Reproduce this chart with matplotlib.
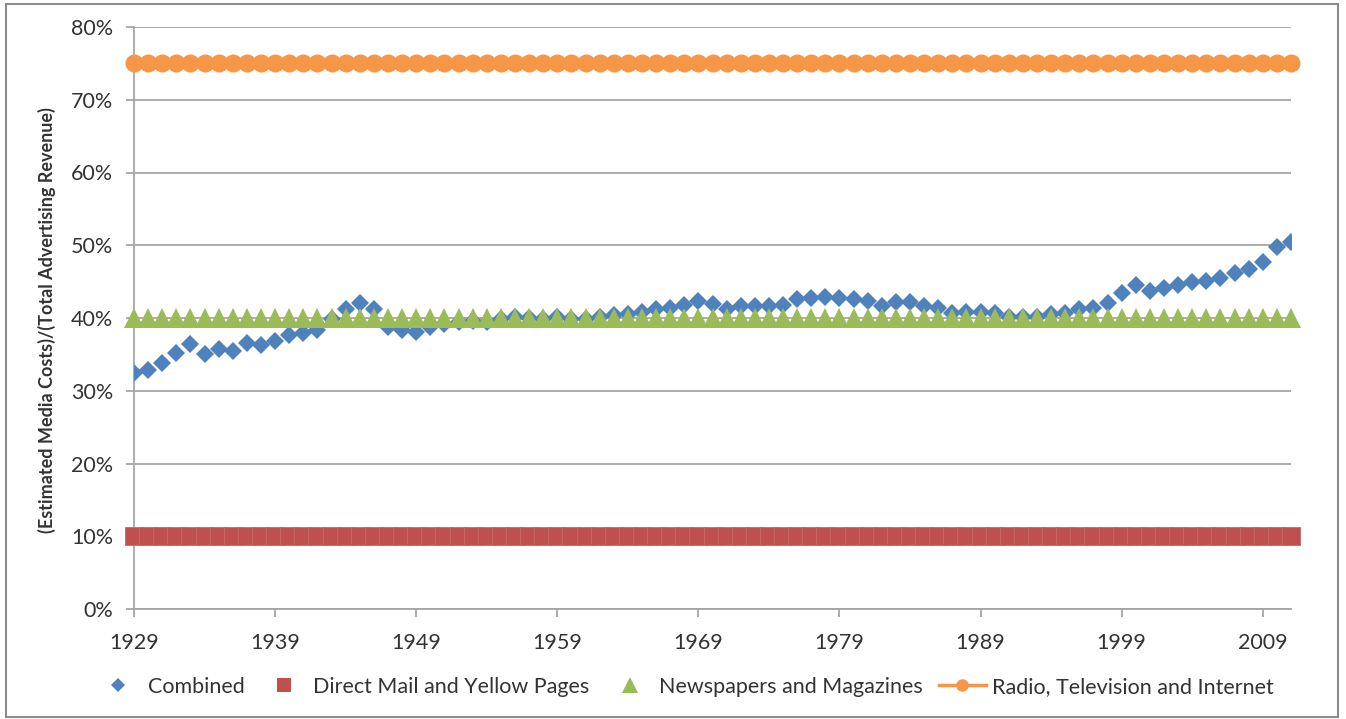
import matplotlib
matplotlib.use("Agg")
from matplotlib import pyplot as plt
from matplotlib.lines import Line2D
from matplotlib.patches import Rectangle
from matplotlib.ticker import PercentFormatter
import numpy as np

first_year = 1929
combined = [32.4, 32.9, 33.8, 35.2, 36.4, 35.1, 35.7, 35.5, 36.6, 36.3,
            36.9, 37.7, 38.0, 38.4, 39.9, 41.3, 42.0, 41.3, 38.8, 38.4,
            38.1, 38.8, 39.2, 39.4, 39.6, 39.4, 39.9, 40.1, 40.0, 39.9,
            40.1, 39.9, 39.9, 40.2, 40.4, 40.6, 40.8, 41.3, 41.4, 41.8,
            42.3, 41.9, 41.3, 41.6, 41.6, 41.6, 41.8, 42.6, 42.8, 42.9,
            42.8, 42.6, 42.3, 41.7, 42.2, 42.2, 41.6, 41.4, 40.7, 40.8,
            40.8, 40.7, 40.2, 40.2, 40.2, 40.6, 40.7, 41.2, 41.4, 42.1,
            43.4, 44.5, 43.7, 44.1, 44.5, 44.9, 45.1, 45.5, 46.2, 46.8,
            47.7, 49.7, 50.4]
years = np.arange(first_year, first_year + len(combined))
direct_mail = [10.0] * len(years)
newspapers = [40.0] * len(years)
radio_tv = [75.0] * len(years)
year_ticks = [1929, 1939, 1949, 1959, 1969, 1979, 1989, 1999, 2009]

blue = '#4F81BD'
red = '#C0504D'
green = '#9BBB59'
orange = '#F79646'
txt = '#333333'

plt.rcParams['font.family'] = ['Lato', 'DejaVu Sans']

fig = plt.figure(figsize=(13.46, 7.19), dpi=100)
ax = fig.add_axes([134/1346, 1 - 609/719, (1291 - 134)/1346, (609 - 27)/719])

ax.plot(years, combined, linestyle='none', marker='D', markersize=9.5,
        color=blue, markeredgewidth=0, zorder=3)
ax.plot(years, direct_mail, linestyle='none', marker='s', markersize=12.6,
        color=red, markeredgecolor='#CA6663', markeredgewidth=0.6, zorder=4,
        clip_on=False)
ax.plot(years, newspapers, linestyle='none', marker='^', markersize=15,
        color=green, markeredgewidth=0, zorder=5, clip_on=False)
ax.plot(years, radio_tv, linestyle='-', linewidth=2.2, marker='o',
        markersize=13, color=orange, markeredgewidth=0, zorder=6,
        clip_on=False)

ax.set_xlim(first_year, years[-1])
ax.set_ylim(0, 80)
ax.set_yticks(range(0, 81, 10))
ax.yaxis.set_major_formatter(PercentFormatter(decimals=0))
ax.set_xticks(year_ticks)
ax.grid(axis='y', color='#A6A6A6', linewidth=1.3)
ax.set_axisbelow(True)
for s in ['top', 'right']:
    ax.spines[s].set_visible(False)
for s in ['left', 'bottom']:
    ax.spines[s].set_color('#A6A6A6')
    ax.spines[s].set_linewidth(1.3)
ax.tick_params(axis='both', colors='#A6A6A6', labelcolor=txt, labelsize=15.5,
               length=6, width=1.3)
ax.tick_params(axis='y', pad=9)
ax.tick_params(axis='x', pad=11)

fig.text(47/1346, 1 - 320/719,
         '(Estimated Media Costs)/(Total Advertising Revenue)',
         rotation=90, ha='center', va='center', fontsize=13,
         fontweight='bold', color=txt)

handles = [
    Line2D([], [], linestyle='none', marker='D', markersize=7.5, color=blue,
           markeredgewidth=0),
    Line2D([], [], linestyle='none', marker='s', markersize=10, color=red,
           markeredgewidth=0),
    Line2D([], [], linestyle='none', marker='^', markersize=11, color=green,
           markeredgewidth=0),
    Line2D([], [], linestyle='-', linewidth=2.5, marker='o', markersize=9,
           color=orange, markeredgewidth=0),
]
labels = ['Combined', 'Direct Mail and Yellow Pages',
          'Newspapers and Magazines', 'Radio, Television and Internet']
fig.legend(handles, labels, loc='center', bbox_to_anchor=(684/1346, 1 - 687/719),
           ncol=4, frameon=False, fontsize=15.5, handlelength=2.2,
           handletextpad=0.26, columnspacing=0.75, labelcolor=txt)

fig.patches.append(Rectangle((6/1346, 1 - 717/719), 1332/1346, 713/719,
                             transform=fig.transFigure, fill=False,
                             edgecolor='#8C8C8C', linewidth=1.5))

fig.savefig('out.png', dpi=100)
